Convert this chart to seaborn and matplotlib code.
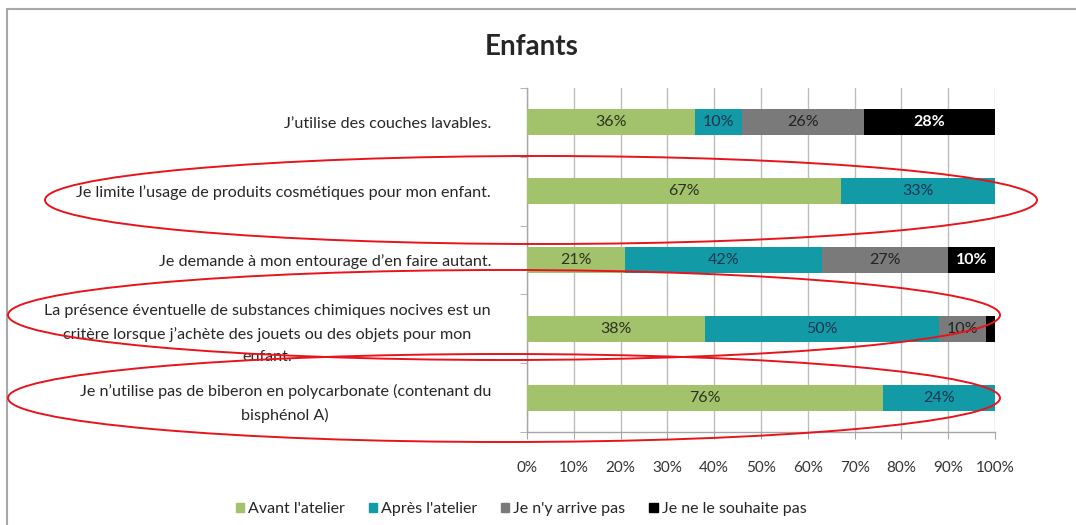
import numpy as np
import pandas as pd
import matplotlib
matplotlib.use('Agg')
import matplotlib.pyplot as plt
from matplotlib.patches import Ellipse
from matplotlib.lines import Line2D
import seaborn as sns

sns.set_style('white')
plt.rcParams['font.family'] = ['Lato', 'DejaVu Sans']

# 데이터
questions = [
    "J\u2019utilise des couches lavables.",
    "Je limite l\u2019usage de produits cosmétiques pour mon enfant.",
    "Je demande à mon entourage d\u2019en faire autant.",
    "La présence éventuelle de substances chimiques nocives est un\ncritère lorsque j\u2019achète des jouets ou des objets pour mon\nenfant.",
    "Je n\u2019utilise pas de biberon en polycarbonate (contenant du\nbisphénol A)",
]
avant = [36, 67, 21, 38, 76]
apres = [10, 33, 42, 50, 24]
arrive_pas = [26, 0, 27, 10, 0]
souhaite_pas = [28, 0, 10, 2, 0]

series_names = ["Avant l'atelier", "Après l'atelier", "Je n'y arrive pas", "Je ne le souhaite pas"]
colors = ['#a2c26b', '#129aa6', '#7a7a7a', '#000000']
label_colors = ['#2b3320', '#1c3550', '#222222', 'white']

df = pd.DataFrame({'q': questions, 'a': avant, 'b': apres, 'c': arrive_pas, 'd': souhaite_pas})
cums = df[['a', 'b', 'c', 'd']].cumsum(axis=1)

fig = plt.figure(figsize=(10.76, 5.25), dpi=100)
ax = fig.add_axes([527/1076, 1-432/525, 468/1076, 344/525])

# 누적 막대 (뒤에서부터 겹쳐 그리기)
for col, c in zip(['d', 'c', 'b', 'a'], colors[::-1]):
    sns.barplot(x=cums[col], y=df['q'], color=c, saturation=1, width=0.38,
                linewidth=0, ax=ax, zorder=3)

# 값 라벨
vals = df[['a', 'b', 'c', 'd']].values
starts = cums.values - vals
for i in range(len(questions)):
    for j in range(4):
        v = vals[i, j]
        if v < 5:
            continue
        ax.text(starts[i, j] + v/2, i, f'{v}%', ha='center', va='center',
                fontsize=11.5, color=label_colors[j],
                fontweight='bold' if j == 3 else 'normal', zorder=5)

ax.set_xlim(0, 100)
ax.set_ylim(4.5, -0.5)
ax.set_xticks(np.arange(0, 101, 10))
ax.set_xticklabels([f'{t}%' for t in range(0, 101, 10)])
ax.set_xlabel('')
ax.set_ylabel('')
ax.grid(axis='x', color='#bdbdbd', lw=1, zorder=0)
ax.set_axisbelow(True)
for s in ['top', 'right']:
    ax.spines[s].set_visible(False)
for s in ['left', 'bottom']:
    ax.spines[s].set_color('#a6a6a6')
    ax.spines[s].set_linewidth(1)

ax.set_yticks(np.arange(-0.5, 5, 1), minor=True)
ax.tick_params(axis='y', which='major', length=0, pad=26, labelsize=11.6, labelcolor='#262626')
ax.tick_params(axis='y', which='minor', length=5, color='#a6a6a6', direction='out', left=True)
ax.tick_params(axis='x', length=5, color='#a6a6a6', direction='out', bottom=True, pad=16,
               labelsize=11, labelcolor='#333333')
for lab in ax.get_yticklabels():
    lab.set_multialignment('center')
    lab.set_linespacing(1.75)

fig.text(532/1076, 1-47/525, 'Enfants', ha='center', va='center', fontsize=20, fontweight='bold')

# 범례
handles = [plt.Rectangle((0, 0), 1, 1, color=c) for c in colors]
fig.legend(handles, series_names, loc='center', bbox_to_anchor=(521/1076, 1-509/525), ncol=4,
           frameon=False, fontsize=11.5, handlelength=0.55, handleheight=0.55,
           handletextpad=0.25, columnspacing=1.45, labelcolor='#262626')

# 테두리
fig.add_artist(Line2D([7/1076, 1], [1-9/525, 1-9/525], transform=fig.transFigure, color='#a8a8a8', lw=1.5))
fig.add_artist(Line2D([7/1076, 7/1076], [0, 1-9/525], transform=fig.transFigure, color='#a8a8a8', lw=1.5))

# 빨간 타원
for cx, cy, w, h in [(541, 200, 992, 88), (504, 315, 992, 90), (504, 398, 992, 88)]:
    fig.add_artist(Ellipse((cx/1076, 1-cy/525), w/1076, h/525, transform=fig.transFigure,
                           fill=False, edgecolor='#e8141c', lw=1.4, zorder=10))

fig.savefig('out.png', dpi=100)
